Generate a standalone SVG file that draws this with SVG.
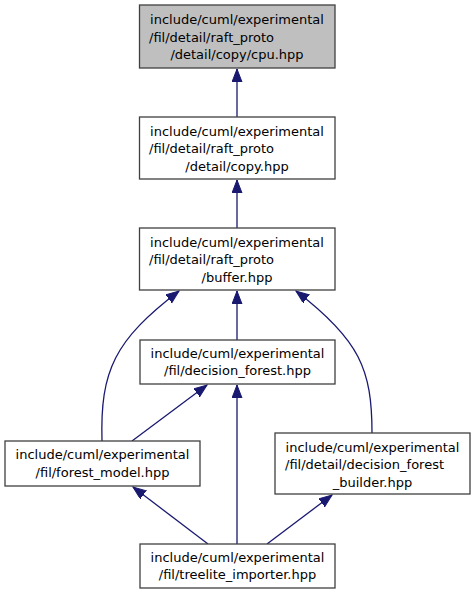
<svg xmlns="http://www.w3.org/2000/svg" width="475" height="595" viewBox="0 0 475 595">
<style>
  .box { fill: #ffffff; stroke: #404040; stroke-width: 1.3; }
  .cur { fill: #bfbfbf; }
  text { font-family: "DejaVu Sans", "Liberation Sans", sans-serif; font-size: 13px; fill: #000000; }
  .c { text-anchor: middle; }
  .l { text-anchor: start; }
  .edge { fill: none; stroke: #191970; stroke-width: 1.3; marker-end: url(#arr); }
</style>
<defs>
  <marker id="arr" markerUnits="userSpaceOnUse" markerWidth="14" markerHeight="11" refX="13" refY="5" orient="auto" viewBox="0 0 14 11">
    <path d="M0,0 L13,5 L0,10 z" fill="#191970" stroke="#191970" stroke-width="1"/>
  </marker>
</defs>
<rect width="475" height="595" fill="#ffffff"/>
<g id="edges">
  <path class="edge" d="M237,117 L237,69"/>
  <path class="edge" d="M237,228 L237,180"/>
  <path class="edge" d="M237,340 L237,291"/>
  <path class="edge" d="M102,441 C100,370 115,340 179,291"/>
  <path class="edge" d="M372,433 C372,370 360,340 296,291"/>
  <path class="edge" d="M132,441 L207,385"/>
  <path class="edge" d="M237,544 L237,385"/>
  <path class="edge" d="M208,544 L133,487"/>
  <path class="edge" d="M267,544 L332,495"/>
</g>
<g id="node1">
  <rect class="box cur" x="139.5" y="5" width="195.5" height="63"/>
  <text class="c" x="237" y="24">include/cuml/experimental</text>
  <text class="l" x="149" y="41.5">/fil/detail/raft_proto</text>
  <text class="c" x="237" y="59">/detail/copy/cpu.hpp</text>
</g>
<g id="node2">
  <rect class="box" x="139.5" y="117" width="195.5" height="62"/>
  <text class="c" x="237" y="135.5">include/cuml/experimental</text>
  <text class="l" x="149" y="153">/fil/detail/raft_proto</text>
  <text class="c" x="237" y="170.5">/detail/copy.hpp</text>
</g>
<g id="node3">
  <rect class="box" x="139.5" y="228" width="195.5" height="62"/>
  <text class="c" x="237" y="246.5">include/cuml/experimental</text>
  <text class="l" x="149" y="264">/fil/detail/raft_proto</text>
  <text class="c" x="237" y="281.5">/buffer.hpp</text>
</g>
<g id="node4">
  <rect class="box" x="140" y="340" width="195" height="44"/>
  <text class="c" x="237.5" y="357.5">include/cuml/experimental</text>
  <text class="c" x="237.5" y="375">/fil/decision_forest.hpp</text>
</g>
<g id="node5">
  <rect class="box" x="5" y="441" width="195" height="45"/>
  <text class="c" x="102.5" y="459">include/cuml/experimental</text>
  <text class="c" x="102.5" y="476.5">/fil/forest_model.hpp</text>
</g>
<g id="node6">
  <rect class="box" x="275" y="433" width="195" height="61"/>
  <text class="c" x="372.5" y="451.5">include/cuml/experimental</text>
  <text class="l" x="285" y="469">/fil/detail/decision_forest</text>
  <text class="c" x="372.5" y="486.5">_builder.hpp</text>
</g>
<g id="node7">
  <rect class="box" x="140" y="544" width="195" height="44"/>
  <text class="c" x="237.5" y="561.5">include/cuml/experimental</text>
  <text class="c" x="237.5" y="579">/fil/treelite_importer.hpp</text>
</g>
</svg>
